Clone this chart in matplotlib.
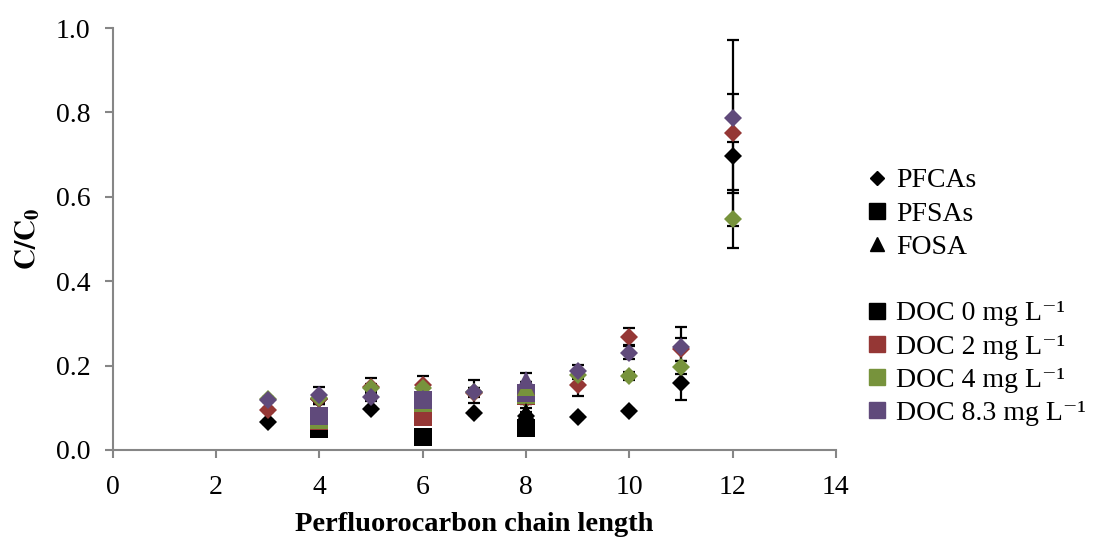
import matplotlib

matplotlib.use("Agg")
import matplotlib.pyplot as plt
from matplotlib.lines import Line2D

# chain lengths for each compound class
x_pfca = [3, 4, 5, 6, 7, 8, 9, 10, 11, 12]
x_pfsa = [4, 6, 8]
x_fosa = [8]

doc_labels = ["DOC 0 mg L⁻¹", "DOC 2 mg L⁻¹", "DOC 4 mg L⁻¹", "DOC 8.3 mg L⁻¹"]
doc_colors = ["#000000", "#953735", "#77933C", "#604A7B"]

# C/C0 values, one list per DOC level
pfca_y = [
    [0.067, 0.120, 0.097, 0.130, 0.088, 0.080, 0.079, 0.093, 0.159, 0.697],
    [0.095, 0.120, 0.150, 0.154, 0.136, 0.120, 0.154, 0.268, 0.239, 0.751],
    [0.120, 0.123, 0.147, 0.147, 0.137, 0.120, 0.178, 0.175, 0.196, 0.547],
    [0.118, 0.130, 0.125, 0.120, 0.138, 0.130, 0.188, 0.231, 0.245, 0.787],
]
pfca_err = [
    [0.005, 0.010, 0.005, 0.010, 0.005, 0.010, 0.005, 0.005, 0.041, 0.088],
    [0.005, 0.010, 0.020, 0.021, 0.010, 0.010, 0.026, 0.020, 0.027, 0.221],
    [0.005, 0.010, 0.010, 0.010, 0.010, 0.010, 0.010, 0.010, 0.015, 0.069],
    [0.005, 0.020, 0.010, 0.010, 0.027, 0.010, 0.013, 0.015, 0.046, 0.057],
]
pfsa_y = [
    [0.050, 0.030, 0.052],
    [0.068, 0.079, 0.128],
    [0.072, 0.112, 0.130],
    [0.081, 0.118, 0.135],
]
pfsa_err = [
    [0.005, 0.005, 0.005],
    [0.005, 0.005, 0.005],
    [0.005, 0.005, 0.005],
    [0.005, 0.005, 0.005],
]
fosa_y = [[0.090], [0.150], [0.150], [0.166]]
fosa_err = [[0.010], [0.010], [0.010], [0.016]]

plt.rcParams["font.family"] = ["Liberation Serif", "DejaVu Serif"]
plt.rcParams["mathtext.fontset"] = "stix"

fig = plt.figure(figsize=(10.94, 5.40), dpi=100)
ax = fig.add_axes([0.103, 0.1667, 0.661, 0.7813])

groups = [
    (x_pfca, pfca_y, pfca_err, "D", 9.2),
    (x_pfsa, pfsa_y, pfsa_err, "s", 13.5),
    (x_fosa, fosa_y, fosa_err, "^", 13.5),
]
# error bars sit behind all markers
for xs, ys, errs, marker, ms in groups:
    for k in range(4):
        ax.errorbar(
            xs, ys[k], yerr=errs[k], fmt="none", ecolor="black",
            elinewidth=1.6, capsize=4.3, capthick=1.6, zorder=2,
        )
for xs, ys, errs, marker, ms in groups:
    for k in range(4):
        ax.plot(
            xs, ys[k], ls="none", marker=marker, ms=ms,
            color=doc_colors[k], mec=doc_colors[k], mew=0, zorder=3,
        )

ax.set_xlim(0, 14)
ax.set_ylim(0, 1.0)
ax.set_xticks(range(0, 15, 2))
ax.set_yticks([0.0, 0.2, 0.4, 0.6, 0.8, 1.0])
ax.set_yticklabels(["%.1f" % v for v in [0.0, 0.2, 0.4, 0.6, 0.8, 1.0]])
for side in ["top", "right"]:
    ax.spines[side].set_visible(False)
for side in ["left", "bottom"]:
    ax.spines[side].set_color("#868686")
    ax.spines[side].set_linewidth(1.5)
ax.tick_params(axis="both", colors="#868686", width=1.5, length=6,
               labelsize=20, labelcolor="black")
ax.tick_params(axis="y", pad=10)
ax.tick_params(axis="x", pad=12)

ax.set_xlabel("Perfluorocarbon chain length", fontsize=20.5, fontweight="bold",
              labelpad=9)
ax.set_ylabel(r"$\mathbf{C/C_0}$", fontsize=21, labelpad=10)

handles = [
    Line2D([], [], ls="none", marker="D", ms=7, color="black"),
    Line2D([], [], ls="none", marker="s", ms=12, color="black"),
    Line2D([], [], ls="none", marker="^", ms=10, color="black"),
    Line2D([], [], ls="none"),
]
labels = ["PFCAs", "PFSAs", "FOSA", " "]
for k in range(4):
    handles.append(Line2D([], [], ls="none", marker="s", ms=12,
                          color=doc_colors[k]))
    labels.append(doc_labels[k])

fig.legend(handles, labels, loc="center left", bbox_to_anchor=(0.781, 0.45),
           frameon=False, fontsize=20, handlelength=0.8, handletextpad=0.3,
           labelspacing=0.28, borderaxespad=0)

fig.savefig("out.png", dpi=100)
